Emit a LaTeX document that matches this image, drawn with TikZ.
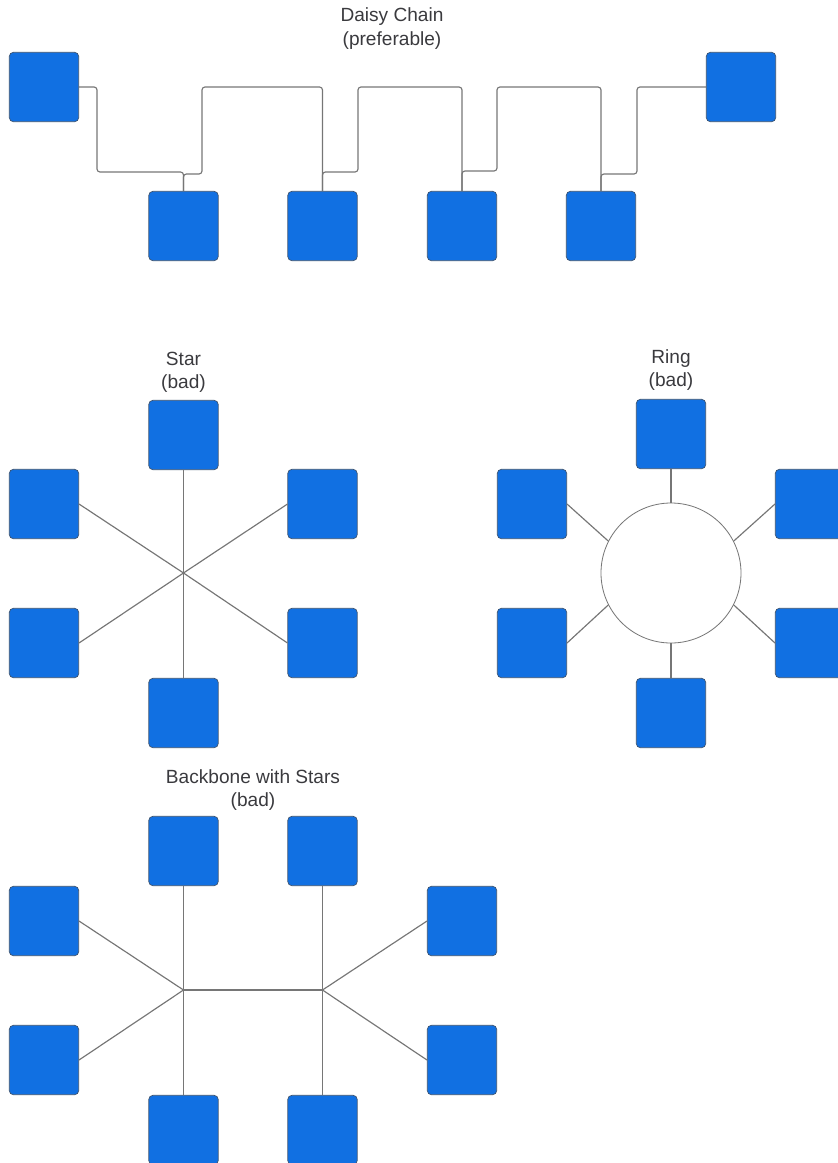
\documentclass[tikz,border=0pt]{standalone}
\usepackage{fontspec}
\setmainfont{Liberation Sans}
\usepackage{tikz}
\usetikzlibrary{positioning, calc}

\definecolor{boxblue}{RGB}{17,112,226}
\definecolor{boxedge}{RGB}{62,84,112}
\definecolor{wiregray}{RGB}{118,118,118}
\definecolor{textgray}{RGB}{58,58,62}

\tikzset{
  device/.style={draw=boxedge, fill=boxblue, line width=0.6pt, rounded corners=0.12cm,
    minimum size=2.08cm, inner sep=0pt},
  wire/.style={draw=wiregray, line width=1pt},
  title/.style={align=center, text=textgray, font=\fontsize{16.3}{19.8}\selectfont}
}

\begin{document}
\begin{tikzpicture}[x=0.03cm, y=-0.03cm]
\useasboundingbox (0,0) rectangle (838,1163);

% Daisy chain
\node[title] (dctitle) at (392,28.5) {Daisy Chain\\(preferable)};
\node[device] (d1) at (44,87) {};
\node[device] (d2) at (183.5,226) {};
\node[device] (d3) at (322.5,226) {};
\node[device] (d4) at (462,226) {};
\node[device] (d5) at (601,226) {};
\node[device] (d6) at (741,87) {};

\draw[wire, rounded corners=2.5pt] (d1.east) -| ($(d1.east)+(18,85)$) -| (d2.north);
\draw[wire, rounded corners=2.5pt] (d2.north) |- ++(18.5,-17) |- (d1.east -| d3.north) -- (d3.north);
\draw[wire, rounded corners=2.5pt] (d3.north) |- ++(35.5,-19) |- (d1.east -| d4.north) -- (d4.north);
\draw[wire, rounded corners=2.5pt] (d4.north) |- ++(35,-20) |- (d1.east -| d5.north) -- (d5.north);
\draw[wire, rounded corners=2.5pt] (d5.north) |- ++(36,-17) |- (d6.west);

% Star
\node[title] (sttitle) at (183.5,372) {Star\\(bad)};
\coordinate (sc) at (183.5,573);
\node[device] (s1) at (183.5,435) {};
\node[device] (s2) at (44,504) {};
\node[device] (s3) at (322.5,504) {};
\node[device] (s4) at (44,643) {};
\node[device] (s5) at (322.5,643) {};
\node[device] (s6) at (183.5,713) {};
\draw[wire] (s1.south) -- (sc) -- (s6.north);
\draw[wire] (s2.east) -- (sc) -- (s5.west);
\draw[wire] (s3.west) -- (sc) -- (s4.east);

% Ring
\node[title] (rgtitle) at (671,370) {Ring\\(bad)};
\node[draw=wiregray, fill=white, line width=0.7pt, circle, minimum size=4.2cm, inner sep=0pt] (ring) at (671,573) {};
\node[device] (r1) at (671,434) {};
\node[device] (r2) at (532,504) {};
\node[device] (r3) at (810,504) {};
\node[device] (r4) at (532,643) {};
\node[device] (r5) at (810,643) {};
\node[device] (r6) at (671,713) {};
\draw[wire] (r1.south) -- (ring.90);
\draw[wire] (r6.north) -- (ring.270);
\draw[wire] (r2.east) -- (ring.153);
\draw[wire] (r3.west) -- (ring.27);
\draw[wire] (r4.east) -- (ring.207);
\draw[wire] (r5.west) -- (ring.333);

% Backbone with stars
\node[title] (bbtitle) at (253,790) {Backbone with Stars\\(bad)};
\coordinate (hl) at (183.5,990);
\coordinate (hr) at (322.5,990);
\node[device] (b1) at (183.5,851) {};
\node[device] (b2) at (322.5,851) {};
\node[device] (b3) at (44,921) {};
\node[device] (b4) at (462,921) {};
\node[device] (b5) at (44,1060) {};
\node[device] (b6) at (462,1060) {};
\node[device] (b7) at (183.5,1130) {};
\node[device] (b8) at (322.5,1130) {};
\draw[wire] (hl) -- (hr);
\draw[wire] (b1.south) -- (hl) -- (b7.north);
\draw[wire] (b3.east) -- (hl) -- (b5.east);
\draw[wire] (b2.south) -- (hr) -- (b8.north);
\draw[wire] (b4.west) -- (hr) -- (b6.west);
\end{tikzpicture}
\end{document}
